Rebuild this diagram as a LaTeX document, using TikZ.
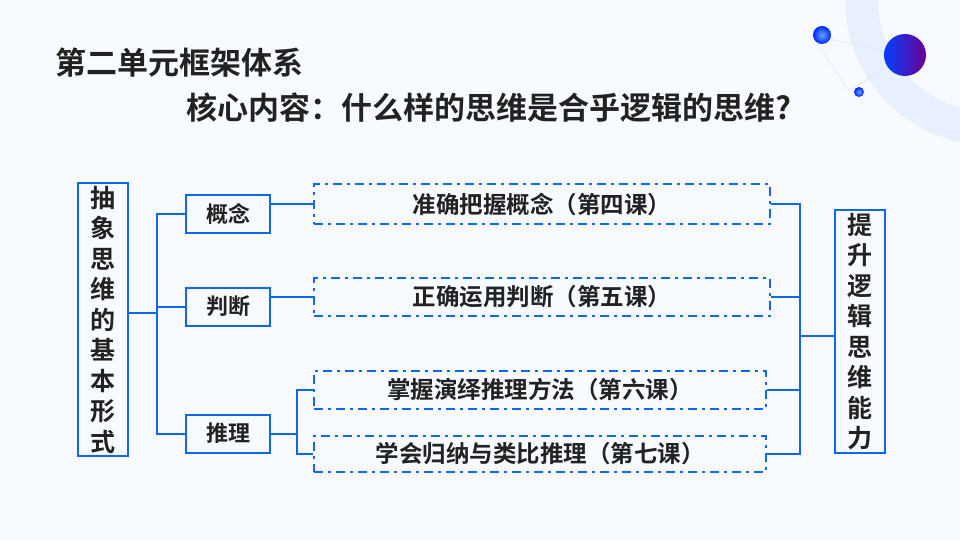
\documentclass[tikz,border=0pt]{standalone}
\usepackage{fontspec}
\setmainfont{Noto Sans CJK SC}[BoldFont={* Bold}]
\usetikzlibrary{positioning}
\definecolor{lineblue}{HTML}{1166EE}
\definecolor{txt}{HTML}{222222}
\definecolor{bg}{HTML}{F7FAFF}
\definecolor{ring}{HTML}{E8F0FD}

\tikzset{
  solidbox/.style={draw=lineblue, line width=2pt, text=txt, font=\bfseries\fontsize{22}{24}\selectfont, inner sep=0pt},
  dashbox/.style={draw=lineblue, line width=2pt, dash pattern=on 9pt off 5pt on 3pt off 5pt, text=txt, font=\bfseries\fontsize{23.5}{26}\selectfont, inner sep=0pt},
  link/.style={draw=lineblue, line width=2pt},
}

\begin{document}
\begin{tikzpicture}[x=1pt,y=-1pt]
      \fill [bg] (0,0) rectangle (960,540);
      \useasboundingbox (0,0) rectangle (960,540);
      % decoration
      \begin{scope}
      \clip (0,0) rectangle (960,540);
      \fill [ring, even odd rule] (990,0) circle (145) (990,0) circle (112);
      \end{scope}
      \draw [blue!12, line width=0.5pt] (812,35) -- (849,91) -- (905,55) -- cycle;
      \shade [inner color=cyan!40!blue!60, outer color=blue!85!cyan] (822,35) circle (9);
      \shade [left color=blue!75!cyan, right color=violet!85!blue] (905,55) circle (21);
      \shade [inner color=cyan!40!blue!60, outer color=blue!85!cyan] (859,92) circle (5);

      % titles
      \node [anchor=west, text=txt, font=\bfseries\fontsize{31}{34}\selectfont] (title) at (52,63) {第二单元框架体系};
      \node [anchor=west, text=txt, font=\bfseries\fontsize{31}{34}\selectfont] (sub) at (183,108) {核心内容：什么样的思维是合乎逻辑的思维?};

      % left
      \node [solidbox, minimum width=50pt, minimum height=273pt, align=center, font=\bfseries\fontsize{25}{30.5}\selectfont] (form) at (103,319.5) {抽\\象\\思\\维\\的\\基\\本\\形\\式};
      \node [solidbox, minimum width=84pt, minimum height=38pt] (concept) at (228,214) {概念};
      \node [solidbox, minimum width=84pt, minimum height=38pt] (judge) at (228,306.5) {判断};
      \node [solidbox, minimum width=84pt, minimum height=38pt] (infer) at (228,433.5) {推理};

      % dashed
      \node [dashbox, minimum width=456pt, minimum height=40pt] (d1) at (542,204) {准确把握概念（第四课）};
      \node [dashbox, minimum width=456pt, minimum height=38pt] (d2) at (542,297) {正确运用判断（第五课）};
      \node [dashbox, minimum width=452pt, minimum height=38pt] (d3) at (540,390) {掌握演绎推理方法（第六课）};
      \node [dashbox, minimum width=452pt, minimum height=36pt] (d4) at (540,454) {学会归纳与类比推理（第七课）};

      % right
      \node [solidbox, minimum width=50pt, minimum height=243pt, align=center, font=\bfseries\fontsize{25}{30.5}\selectfont] (goal) at (860,331.5) {提\\升\\逻\\辑\\思\\维\\能\\力};

      % connectors
      \coordinate (jl) at (157,313);
      \draw [link] (form.east |- jl) -- (jl);
      \draw [link] (concept.west) -| (jl) |- (infer.west);
      \draw [link] (judge.west) -- (judge.west -| jl);
      \draw [link] (concept.east |- d1.west) -- (d1.west);
      \draw [link] (judge.east |- d2.west) -- (d2.west);
      \coordinate (jm) at (297,433.5);
      \draw [link] (infer.east) -- (jm);
      \draw [link] (d3.west) -| (jm) |- (d4.west);
      \coordinate (jr) at (800,336);
      \draw [link] (d1.east) -| (jr) |- (d4.east);
      \draw [link] (d2.east) -- (d2.east -| jr);
      \draw [link] (d3.east) -- (d3.east -| jr);
      \draw [link] (jr) -- (goal.west |- jr);
\end{tikzpicture}
\end{document}
